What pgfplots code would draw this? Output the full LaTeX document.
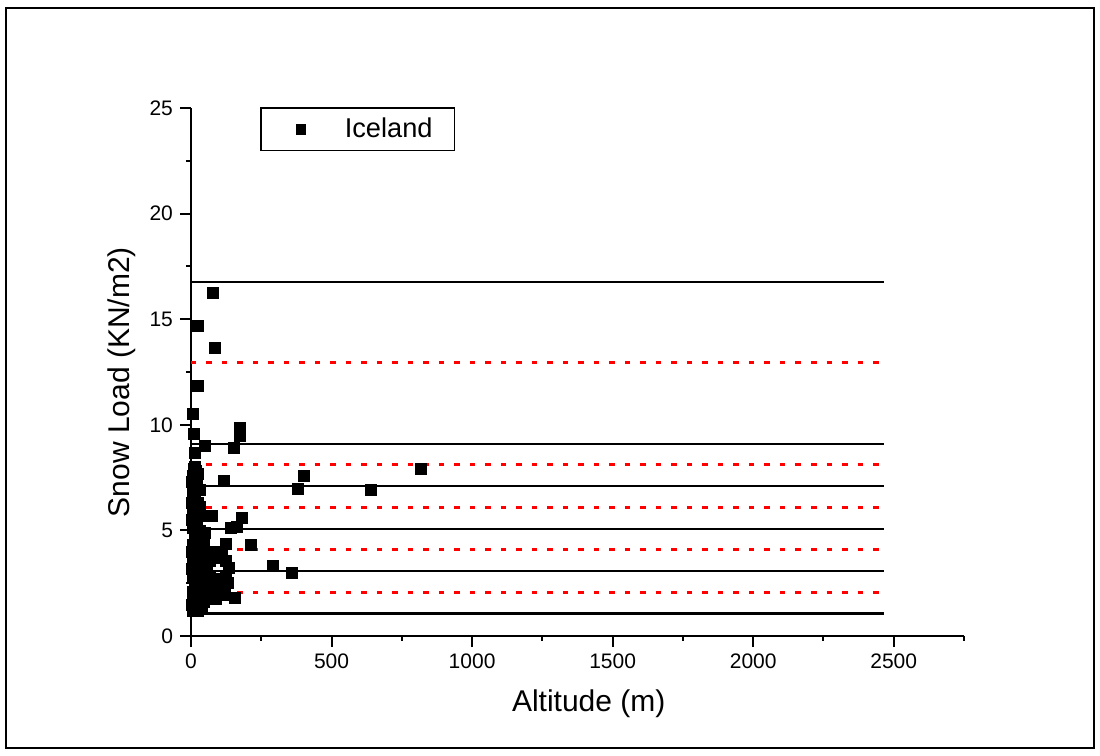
\documentclass[border=0pt]{standalone}
\usepackage{fontspec}
\setmainfont{Liberation Sans}
\usepackage{pgfplots}
\pgfplotsset{compat=1.18}
\begin{document}
\begin{tikzpicture}
\path (0pt,0pt) rectangle (550pt,378pt);
\draw[line width=1.2pt] (3pt,4pt) rectangle (547pt,374pt);
\begin{axis}[
  at={(95.5pt,60pt)}, anchor=south west,
  scale only axis, width=386.5pt, height=264pt,
  xmin=0, xmax=2750, ymin=0, ymax=25,
  axis x line=bottom, axis y line=left,
  axis line style={line width=1pt,-},
  tick style={black, line width=1pt},
  tick align=outside,
  major tick length=5.5pt, minor tick length=2.5pt,
  xtick={0,500,...,2500}, minor xtick={250,750,...,2750},
  ytick={0,5,...,25}, minor ytick={2.5,7.5,...,22.5},
  /pgf/number format/assume math mode=true,
  /pgf/number format/set thousands separator={},
  ticklabel style={font=\fontsize{10.5}{12}\selectfont},
  xlabel={Altitude (m)}, ylabel={Snow Load (KN/m2)},
  xlabel style={font=\fontsize{15}{17}\selectfont, at={(axis description cs:0.5145,-0.129)}, anchor=center},
  ylabel style={font=\fontsize{15}{17}\selectfont, at={(axis description cs:-0.0895,0.481)}, anchor=center},
  legend style={at={(axis description cs:0.0893,1.002)}, anchor=north west, draw=black, line width=0.8pt,
    inner xsep=0pt, inner ysep=3pt, font=\fontsize{13.6}{15}\selectfont},
]
\addplot[only marks, mark=square*, mark size=2.75pt, mark options={fill=black, draw=black, line width=0.3pt},
  legend image code/.code={\path[draw=none] (0pt,-5pt) rectangle (40pt,5pt); \draw[mark=square*, mark size=2.4pt, fill=black, line width=0.3pt] plot coordinates {(20pt,0pt)};}]
table {
x y
78 16.24
25 14.68
85 13.64
25 11.84
7 10.5
10 9.56
172 9.84
172 9.47
50 9.0
153 8.9
14 8.66
18 7.8
117 7.37
818 7.93
402 7.58
380 6.96
640 6.91
32 6.9
75 5.68
181 5.59
142 5.1
164 5.15
50 4.88
125 4.36
213 4.31
292 3.31
359 2.98
157 1.8
75 1.75
5 1.2
15 1.35
30 1.5
10 1.7
45 1.6
20 1.9
5 2.1
35 2.2
12 2.4
50 2.3
25 2.6
5 2.8
40 2.9
15 3.1
30 3.3
5 3.5
45 3.6
20 3.8
10 4.0
35 4.1
5 4.3
25 4.5
15 4.7
40 4.9
5 5.1
20 5.3
10 5.5
30 5.7
5 5.9
15 6.1
25 6.3
5 6.5
12 6.7
8 7.0
20 7.3
5 7.6
15 8.0
2 1.5
25 1.2
40 1.3
8 2.0
28 2.0
18 2.7
35 2.6
2 3.2
25 3.6
12 3.4
2 4.0
25 4.1
45 4.4
12 4.4
30 5.0
2 5.5
20 5.8
30 6.1
2 6.3
18 6.9
2 7.3
25 7.7
10 7.9
136 3.22
56 3.22
96 3.72
96 2.72
124 3.57
68 3.57
124 2.87
68 2.87
60 3.9
80 4.0
110 3.95
130 2.5
110 2.2
85 2.15
65 2.3
100 2.0
120 1.95
90 1.75
};
\addlegendentry{Iceland\hspace*{9pt}}
\addplot[black, line width=1.1pt, forget plot] coordinates {(0,1.07) (2465,1.07)};
\addplot[black, line width=1.1pt, forget plot] coordinates {(0,3.08) (2465,3.08)};
\addplot[black, line width=1.1pt, forget plot] coordinates {(0,5.07) (2465,5.07)};
\addplot[black, line width=1.1pt, forget plot] coordinates {(0,7.1) (2465,7.1)};
\addplot[black, line width=1.1pt, forget plot] coordinates {(0,9.09) (2465,9.09)};
\addplot[black, line width=1.1pt, forget plot] coordinates {(0,16.78) (2465,16.78)};
\addplot[red, line width=1.5pt, dash pattern=on 2.75pt off 5pt, forget plot] coordinates {(0,2.04) (2465,2.04)};
\addplot[red, line width=1.5pt, dash pattern=on 2.75pt off 5pt, forget plot] coordinates {(0,4.1) (2465,4.1)};
\addplot[red, line width=1.5pt, dash pattern=on 2.75pt off 5pt, forget plot] coordinates {(0,6.1) (2465,6.1)};
\addplot[red, line width=1.5pt, dash pattern=on 2.75pt off 5pt, forget plot] coordinates {(0,8.1) (2465,8.1)};
\addplot[red, line width=1.5pt, dash pattern=on 2.75pt off 5pt, forget plot] coordinates {(0,12.97) (2465,12.97)};
\end{axis}
\end{tikzpicture}
\end{document}
